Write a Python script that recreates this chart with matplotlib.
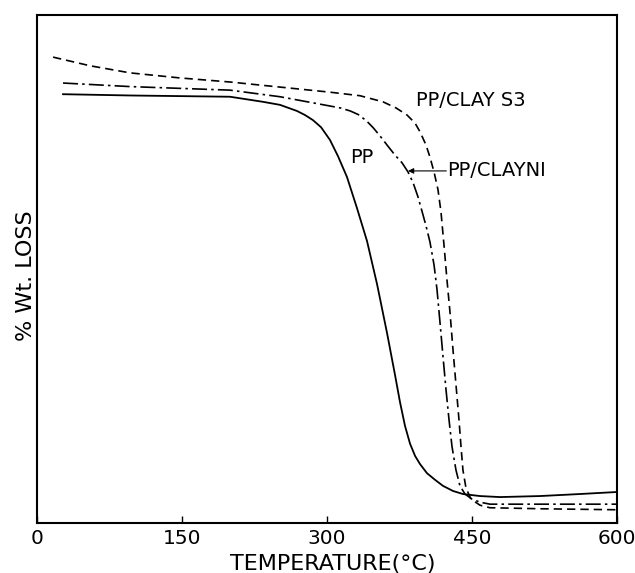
import matplotlib
matplotlib.use("Agg")
import matplotlib.pyplot as plt

plt.rcParams['font.family'] = ['DejaVu Sans']

# Temperature (deg C) and relative weight values
pp_T = [27.2, 96.5, 199.9, 234.0, 251.6, 269.1, 277.4, 285.6, 294.0, 303.2, 311.5, 320.8,
        331.1, 341.5, 351.9, 362.2, 370.5, 375.6, 380.8, 386.0, 391.2, 396.3, 403.5,
        411.8, 420.1, 430.4, 440.7, 458.3, 479.0, 520.4, 561.7, 600.0]
pp_w = [84.4, 84.15, 83.9, 82.9, 82.3, 81.1, 80.3, 79.3, 77.9, 75.4, 72.2, 68.1,
        62.0, 55.5, 47.0, 37.4, 29.1, 23.8, 19.1, 15.6, 13.2, 11.6, 9.8,
        8.5, 7.3, 6.3, 5.7, 5.3, 5.1, 5.3, 5.7, 6.1]

ni_T = [27.2, 96.5, 199.9, 251.6, 285.6, 313.8, 324.2, 332.4, 340.7, 347.9, 354.9, 362.2,
        370.5, 377.7, 383.9, 389.1, 394.2, 398.3, 402.5, 406.6, 410.8, 413.9, 417.0,
        420.1, 423.2, 426.3, 429.4, 433.5, 437.6, 442.8, 450.0, 458.3, 468.6, 520.4, 600.0]
ni_w = [86.6, 85.9, 85.2, 83.9, 82.7, 81.7, 81.1, 80.4, 79.2, 77.8, 76.2, 74.4,
        72.4, 70.9, 69.1, 67.0, 64.2, 61.4, 58.5, 55.3, 50.8, 45.9, 39.4,
        32.7, 26.2, 20.3, 15.0, 10.4, 7.3, 5.7, 4.7, 4.1, 3.7, 3.7, 3.7]

s3_T = [16.9, 55.1, 96.5, 148.2, 199.9, 251.6, 303.2, 334.3, 358.0, 371.5, 382.9, 391.2,
        396.3, 402.5, 406.6, 410.8, 414.9, 418.0, 421.1, 424.2, 427.3, 430.4, 433.5, 436.6,
        438.7, 440.7, 443.8, 449.0, 458.3, 468.6, 520.4, 600.0]
s3_w = [91.7, 90.0, 88.6, 87.6, 86.8, 85.8, 84.8, 84.1, 82.9, 81.7, 80.3, 78.7,
        77.0, 74.4, 72.0, 69.1, 65.6, 61.2, 54.7, 47.8, 41.5, 34.1, 27.2, 20.3,
        15.0, 10.4, 6.9, 4.7, 3.5, 3.0, 2.8, 2.6]

xticks = [0, 150, 300, 450, 600]

fig = plt.figure(figsize=(6.35, 5.73), dpi=100)
ax = fig.add_axes([0.0578, 0.0873, 0.9139, 0.8866])

ax.plot(pp_T, pp_w, color='black', lw=1.3, ls='-', solid_joinstyle='round')
ax.plot(ni_T, ni_w, color='black', lw=1.2, ls=(0, (9, 2.5, 1.5, 2.5)))
ax.plot(s3_T, s3_w, color='black', lw=1.2, ls=(0, (5, 3)))

ax.set_xlim(0, 600)
ax.set_ylim(0, 100)
ax.set_xticks(xticks)
ax.set_xticklabels([str(t) for t in xticks])
ax.set_yticks([])
ax.tick_params(axis='x', direction='in', length=5, width=1.0, labelsize=14.5, pad=4.5)
for s in ax.spines.values():
    s.set_linewidth(1.5)

fig.text(332.5 / 635, 1 - 570 / 573, "TEMPERATURE(\u00b0C)", fontsize=16,
         ha='center', va='baseline')
fig.text(26.5 / 635, 1 - 276 / 573, "% Wt. LOSS", fontsize=16, rotation=90,
         ha='center', va='center')

ax.text(335.8, 72.0, "PP", fontsize=14, ha='center', va='center')
ax.text(449.0, 83.2, "PP/CLAY S3", fontsize=14, ha='center', va='center')
ax.text(424.2, 69.4, "PP/CLAYNI", fontsize=14, ha='left', va='center')
ax.annotate("", xy=(383.9, 69.3), xytext=(423.5, 69.3),
            arrowprops=dict(arrowstyle='-|>', color='black', lw=0.8,
                            mutation_scale=8, shrinkA=0, shrinkB=0))

fig.savefig("out.png", dpi=100)
